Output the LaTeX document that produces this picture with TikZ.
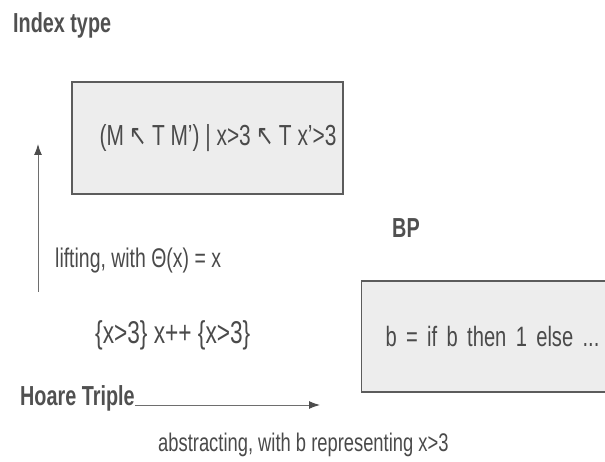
\documentclass[tikz,border=0pt]{standalone}
\usepackage{fontspec}
\setmainfont{Liberation Sans}[FakeStretch=0.72]
\newfontfamily\arrowfont{DejaVu Sans}[FakeStretch=0.72]
\usepackage{xcolor}
\usetikzlibrary{arrows.meta, positioning}

\definecolor{inkgray}{HTML}{4A4A4A}
\definecolor{headgray}{HTML}{505050}
\definecolor{boxfill}{HTML}{EDEDED}
\definecolor{boxline}{HTML}{5C5C5C}
\definecolor{flowgray}{HTML}{6E6E6E}

\newcommand{\nwto}{{\arrowfont ↖}}
\newcommand{\pts}[1]{\fontsize{#1}{#1}\selectfont}

\begin{document}
\begin{tikzpicture}[
  x=1pt, y=-1pt,
  lbl/.style={inner sep=0pt, text=inkgray, font=\pts{26}},
  head/.style={lbl, text=headgray, font=\pts{27.5}\bfseries},
  box/.style={draw=boxline, line width=1.2pt, fill=boxfill, text=inkgray, font=\pts{29}},
  flow/.style={draw=flowgray, line width=1pt, -{Latex[length=11pt, width=8pt, color=black!70]}},
]
\useasboundingbox (0,0) rectangle (605,462);

% Index type (top)
\node[head, anchor=base west] (idx-title) at (13,33) {Index type};
\node[box, minimum width=271pt, minimum height=112pt, inner sep=0pt] (idx-box) at (207.5,138)
  {\hspace*{21pt}\raisebox{-3pt}{(M \nwto\,T M') | x>3 \nwto\,T x'>3}};

% lifting
\coordinate (lift-foot) at (38,292);
\coordinate (lift-tip) at (38,144);
\draw[flow] (lift-foot) -- (lift-tip);
\node[lbl, anchor=base west, font=\pts{27}] (lift-lbl) at (55,268) {lifting, with Θ(x) = x};

% BP (right)
\node[head, anchor=base west] (bp-title) at (392,238) {BP};
\node[box, anchor=west, text width=300pt, inner xsep=24pt, minimum height=111pt, align=left, font=\pts{28}] (bp-box) at (361,336.5)
  {b = if b then 1 else ...};

% Hoare triple (bottom left)
\node[lbl, anchor=base west, font=\pts{31.5}] (hoare-pre) at (95,343) {\{x>3\} x++ \{x>3\}};
\node[head, anchor=base west] (hoare-title) at (20,405) {Hoare Triple};

% abstracting
\coordinate (abs-tip) at (320,405);
\draw[flow] (hoare-title.base east) -- (abs-tip);
\node[lbl, anchor=base west, font=\pts{25.5}] (abs-lbl) at (158,451) {abstracting, with b representing x>3};

\end{tikzpicture}
\end{document}
